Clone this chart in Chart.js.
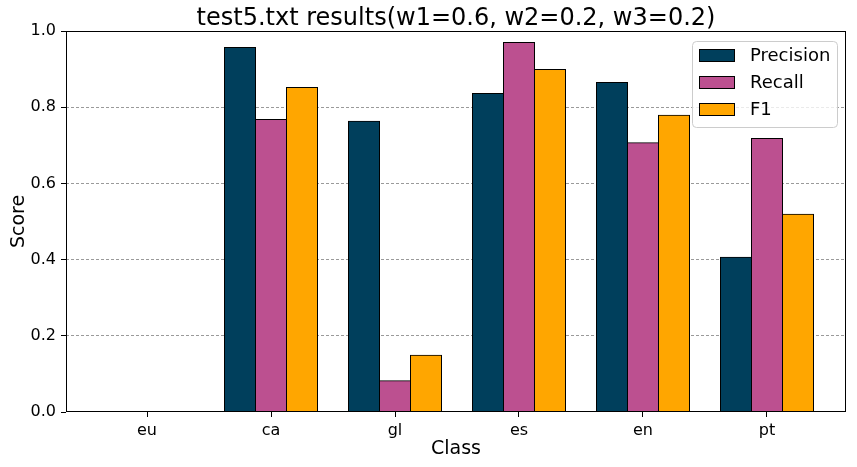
<!DOCTYPE html>
<html>
<head>
<meta charset="utf-8">
<title>test5.txt results</title>
<script src="https://cdn.jsdelivr.net/npm/chart.js@4"></script>
<style>
  html, body { margin: 0; padding: 0; background: #fff; }
  #wrap { width: 857px; height: 467px; }
</style>
</head>
<body>
<div id="wrap"><canvas id="scoreChart" width="857" height="467"></canvas></div>
<script>
// values
const classes = ['eu', 'ca', 'gl', 'es', 'en', 'pt'];
const seriesNames = ['Precision', 'Recall', 'F1'];
const precision = [0, 0.957, 0.763, 0.836, 0.865, 0.406];
const recall = [0, 0.768, 0.082, 0.970, 0.707, 0.718];
const f1 = [0, 0.852, 0.149, 0.899, 0.779, 0.519];
const yTicks = [0, 0.2, 0.4, 0.6, 0.8, 1.0];

const colors = ['#003f5c', '#bc5090', '#ffa600'];

Chart.defaults.font.family = '"DejaVu Sans", sans-serif';
Chart.defaults.color = '#000';

const toPoints = arr => arr.map((v, i) => ({ x: i, y: v }));

// matplotlib-style box round the axes
const framePlugin = {
    id: 'frame',
    afterDatasetsDraw(chart) {
        const { ctx, chartArea: a } = chart;
        ctx.save();
        ctx.strokeStyle = '#000';
        ctx.lineWidth = 1;
        ctx.strokeRect(Math.round(a.left) + 0.5, Math.round(a.top) + 0.5,
            Math.round(a.right - a.left) - 1, Math.round(a.bottom - a.top) - 1);
        ctx.restore();
    }
};

// legend box inside the plot, top right
const insideLegend = {
    id: 'insideLegend',
    afterDraw(chart) {
        const { ctx, chartArea: a } = chart;
        const w = 145, h = 86;
        const x = a.right - 9 - w, y = a.top + 10;
        ctx.save();
        ctx.beginPath();
        ctx.roundRect(x + 0.5, y + 0.5, w, h, 4);
        ctx.fillStyle = 'rgba(255,255,255,0.8)';
        ctx.fill();
        ctx.strokeStyle = '#cccccc';
        ctx.lineWidth = 1;
        ctx.stroke();

        chart.data.datasets.forEach((ds, i) => {
            const cy = y + 14 + i * 27;
            ctx.fillStyle = ds.backgroundColor;
            ctx.fillRect(x + 7, cy - 6, 36, 12.6);
            ctx.strokeStyle = '#000';
            ctx.strokeRect(x + 7.5, cy - 5.5, 35, 12);
            ctx.fillStyle = '#000';
            ctx.font = '18px "DejaVu Sans"';
            ctx.textBaseline = 'middle';
            ctx.fillText(ds.label, x + 58, cy + 1);
        });
        ctx.restore();
    }
};

new Chart(document.getElementById('scoreChart').getContext('2d'), {
    type: 'bar',
    data: {
        datasets: [precision, recall, f1].map((vals, i) => ({
            label: seriesNames[i],
            data: toPoints(vals),
            backgroundColor: colors[i],
            borderColor: '#000',
            borderWidth: 1,
            borderSkipped: 'start',
            inflateAmount: 0.5,
            barPercentage: 1.0,
            categoryPercentage: 0.75
        }))
    },
    options: {
        responsive: false,
        animation: false,
        layout: { padding: { left: 0, right: 11, top: 0, bottom: 0 } },
        plugins: {
            legend: { display: false },
            tooltip: { enabled: false },
            title: {
                display: true,
                fullSize: false,
                text: 'test5.txt results(w1=0.6, w2=0.2, w3=0.2)',
                color: '#000',
                font: { size: 24, weight: 'normal', lineHeight: 1 },
                padding: { top: 6.5, bottom: 0.5 }
            }
        },
        scales: {
            x: {
                type: 'linear',
                offset: false,
                min: -0.65323,
                max: 5.63710,
                afterBuildTicks: axis => {
                    axis.ticks = classes.map((_, i) => ({ value: i }));
                },
                afterFit: scale => { scale.height = 55; },
                ticks: {
                    autoSkip: false,
                    maxRotation: 0,
                    padding: 4,
                    font: { size: 16 },
                    callback: v => classes[v]
                },
                grid: {
                    offset: false,
                    drawOnChartArea: false,
                    drawTicks: true,
                    tickLength: 5,
                    tickColor: '#000',
                    tickWidth: 1
                },
                border: { display: false },
                title: {
                    display: true,
                    text: 'Class',
                    font: { size: 19 },
                    padding: { top: 6.5, bottom: 6.5 }
                }
            },
            y: {
                min: 0,
                max: 1,
                afterBuildTicks: axis => {
                    axis.ticks = yTicks.map(v => ({ value: v }));
                },
                afterFit: scale => { scale.width = 66; },
                ticks: {
                    padding: 5,
                    font: { size: 16 },
                    callback: v => v.toFixed(1)
                },
                grid: {
                    // the frame covers the 0.0 and 1.0 lines
                    color: c => (c.tick && (c.tick.value === 0 || c.tick.value === 1)) ? 'rgba(0,0,0,0)' : '#808080',
                    lineWidth: 0.8,
                    drawTicks: true,
                    tickLength: 5,
                    tickColor: '#000',
                    tickWidth: 1,
                    tickBorderDash: []
                },
                border: { display: false, dash: [3, 2] },
                title: {
                    display: true,
                    text: 'Score',
                    font: { size: 19 },
                    padding: { top: 7.5, bottom: 5.5 }
                }
            }
        }
    },
    plugins: [framePlugin, insideLegend]
});
</script>
</body>
</html>
